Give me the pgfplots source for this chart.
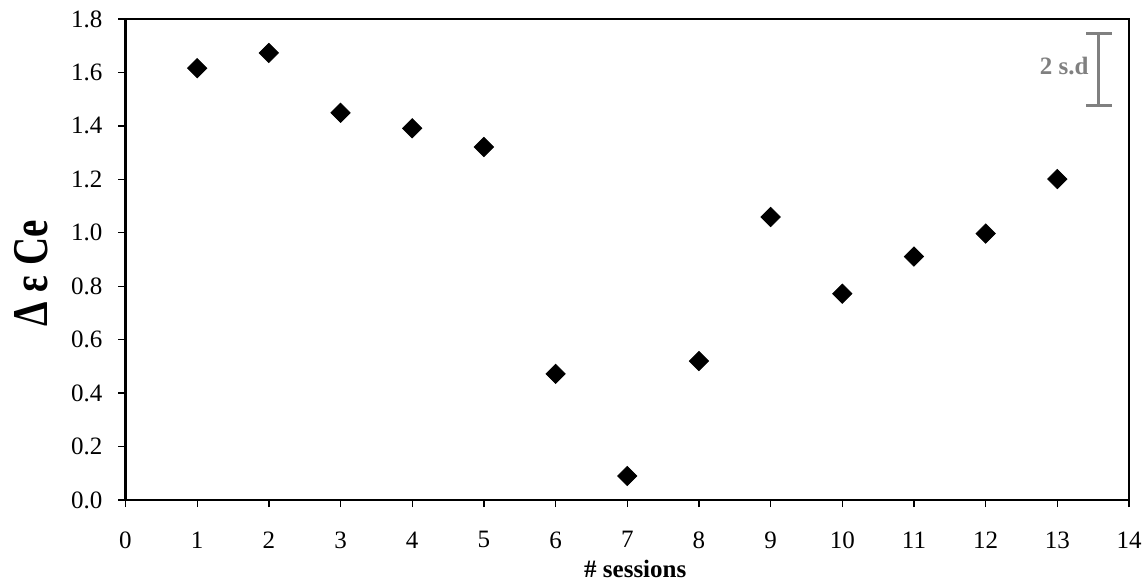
\documentclass[border=0pt]{standalone}
\usepackage{pgfplots}
\pgfplotsset{compat=1.18}
\usepackage{fontspec}
\setmainfont{Liberation Serif}
\newfontfamily\labfont[FakeStretch=0.78, UprightFont={* Bold}, BoldFont={* Bold}]{Liberation Serif}
\definecolor{sdgray}{RGB}{128,128,128}
\begin{document}
\begin{tikzpicture}
\path[use as bounding box] (-62.75pt,-41.5pt) rectangle (509.25pt,250pt);
\begin{axis}[
  scale only axis,
  width=501.75pt, height=240.5pt,
  at={(0,0)}, anchor=south west,
  xmin=0, xmax=14, ymin=0, ymax=1.8,
  xtick={0,1,...,14},
  ytick={0,0.2,0.4,0.6,0.8,1.0,1.2,1.4,1.6,1.8},
  tick pos=left,
  tick align=outside,
  major tick length=3.5pt,
  every tick/.style={black, line width=0.65pt},
  axis line style={black, line width=1.2pt},
  tick label style={font=\fontsize{12.5}{14}\selectfont},
  /pgf/number format/assume math mode=true,
  xticklabel style={yshift=-8.75pt},
  yticklabel style={xshift=-4.5pt, /pgf/number format/.cd, fixed, fixed zerofill, precision=1},
  xlabel={\bfseries\# sessions},
  xlabel style={font=\fontsize{12.5}{14}\selectfont, at={(axis description cs:0.508,-0.162)}, anchor=base},
  ylabel={\labfont Δ ε Ce},
  ylabel style={font=\fontsize{25}{28}\selectfont, at={(axis description cs:-0.094,0.471)}, anchor=center},
]
\addplot[only marks, mark=square*, mark size=3.4pt, mark options={rotate=45, fill=black, draw=black}]
coordinates {
(1,1.616) (2,1.673) (3,1.449) (4,1.391) (5,1.321) (6,0.472) (7,0.090)
(8,0.520) (9,1.059) (10,0.772) (11,0.911) (12,0.997) (13,1.201)
};
\addplot[forget plot, draw=none, mark=none,
  error bars/.cd, y dir=both, y explicit,
  error bar style={line width=1.5pt, sdgray, solid},
  error mark options={rotate=90, sdgray, line width=1.5pt, mark size=6.3pt}]
coordinates {(13.58,1.61) +- (0,0.134)};
\node[anchor=east, inner sep=0pt, text=sdgray, font=\fontsize{12.5}{14}\selectfont\bfseries]
  at (axis cs:13.58,1.623) [xshift=-5pt] {2 s.d};
\end{axis}
\end{tikzpicture}
\end{document}
